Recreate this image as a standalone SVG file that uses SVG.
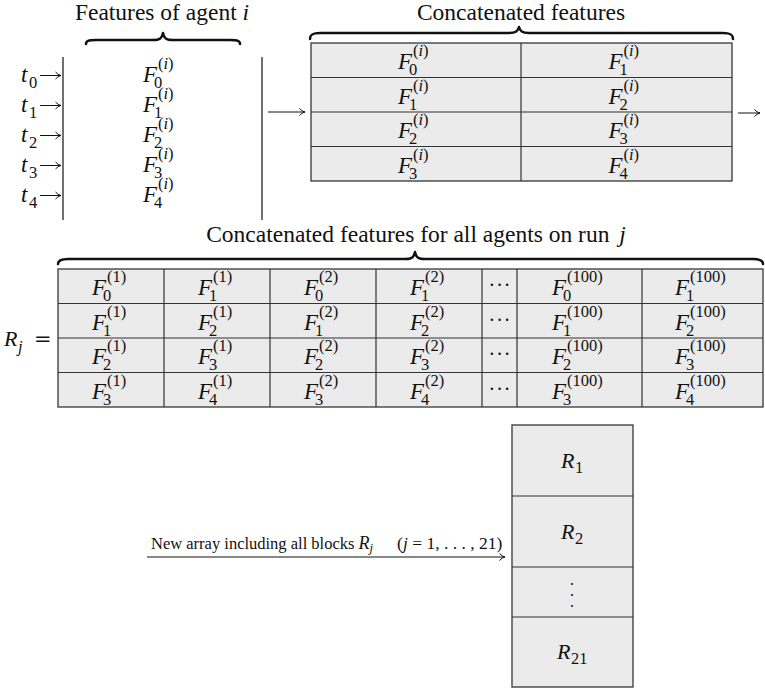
<svg xmlns="http://www.w3.org/2000/svg" width="765" height="689" viewBox="0 0 765 689">
  <style>
    text { font-family: "Liberation Serif", "Times New Roman", serif; fill: #111; }
    .it { font-style: italic; }
    .F { font-size: 23px; font-style: italic; }
    .s { font-size: 16.5px; }
    .title { font-size: 23.5px; }
    .small { font-size: 16.5px; }
    .R { font-size: 22px; font-style: italic; }
    .grid { fill: #ebebeb; stroke: #444; stroke-width: 1.4; }
    .gl { stroke: #333; stroke-width: 1.2; fill: none; }
    .bar { stroke: #222; stroke-width: 1.3; }
    .brace { fill: none; stroke: #111; stroke-width: 2.5; stroke-linecap: round; stroke-linejoin: round; }
    .arr { fill: none; stroke: #111; stroke-width: 1; marker-end: url(#ah); }
    .vdots { font-size: 16px; writing-mode: vertical-rl; letter-spacing: 7px; }
  </style>
  <defs>
    <marker id="ah" markerWidth="10" markerHeight="10" refX="9" refY="5" orient="auto" markerUnits="userSpaceOnUse">
      <path d="M3.5,1.5 Q6,4.4 9,5 Q6,5.6 3.5,8.5" fill="none" stroke="#111" stroke-width="1"/>
    </marker>
  </defs>

  <rect width="765" height="689" fill="#ffffff"/>

  <!-- Features of agent i -->
  <g id="agent-features">
    <text class="title" x="162" y="20" text-anchor="middle">Features of agent <tspan class="it">i</tspan></text>
    <path class="brace" d="M86,44 C86,41 88,40 96,40 L153,40 C160,40 162,38 163,33 C164,38 166,40 173,40 L230,40 C238,40 240,41 240,44"/>
    <line class="bar" x1="63" y1="57" x2="63" y2="220"/>
    <line class="bar" x1="262" y1="57" x2="262" y2="220"/>
    <text class="F" x="21" y="82">t<tspan class="s" font-style="normal" x="29" y="88">0</tspan></text>
    <text class="F" x="21" y="112">t<tspan class="s" font-style="normal" x="29" y="118">1</tspan></text>
    <text class="F" x="21" y="142">t<tspan class="s" font-style="normal" x="29" y="148">2</tspan></text>
    <text class="F" x="21" y="172">t<tspan class="s" font-style="normal" x="29" y="178">3</tspan></text>
    <text class="F" x="21" y="202">t<tspan class="s" font-style="normal" x="29" y="208">4</tspan></text>
    <text><tspan class="F" x="143" y="82">F</tspan><tspan class="s" x="154" y="88">0</tspan><tspan class="s" x="158" y="69">(<tspan class="it">i</tspan>)</tspan></text>
    <text><tspan class="F" x="143" y="112">F</tspan><tspan class="s" x="154" y="118">1</tspan><tspan class="s" x="158" y="99">(<tspan class="it">i</tspan>)</tspan></text>
    <text><tspan class="F" x="143" y="142">F</tspan><tspan class="s" x="154" y="148">2</tspan><tspan class="s" x="158" y="129">(<tspan class="it">i</tspan>)</tspan></text>
    <text><tspan class="F" x="143" y="172">F</tspan><tspan class="s" x="154" y="178">3</tspan><tspan class="s" x="158" y="159">(<tspan class="it">i</tspan>)</tspan></text>
    <text><tspan class="F" x="143" y="202">F</tspan><tspan class="s" x="154" y="208">4</tspan><tspan class="s" x="158" y="189">(<tspan class="it">i</tspan>)</tspan></text>
  </g>

  <!-- Concatenated features of agent i -->
  <g id="concat-agent">
    <text class="title" x="521" y="20" text-anchor="middle">Concatenated features</text>
    <path class="brace" d="M310,39 C310,35 312,33 320,33 L509,33 C516,33 518,31 519,27 C520,31 522,33 529,33 L723,33 C731,33 733,35 733,39"/>
    <rect class="grid" x="311" y="43" width="421" height="138"/>
    <path class="gl" d="M521,43 V181 M311,77.5 H732 M311,112 H732 M311,146.5 H732"/>
    <text><tspan class="F" x="398" y="69">F</tspan><tspan class="s" x="409" y="75">0</tspan><tspan class="s" x="413" y="56">(<tspan class="it">i</tspan>)</tspan></text>
    <text><tspan class="F" x="608.5" y="69">F</tspan><tspan class="s" x="619.5" y="75">1</tspan><tspan class="s" x="623.5" y="56">(<tspan class="it">i</tspan>)</tspan></text>
    <text><tspan class="F" x="398" y="103.5">F</tspan><tspan class="s" x="409" y="109.5">1</tspan><tspan class="s" x="413" y="90.5">(<tspan class="it">i</tspan>)</tspan></text>
    <text><tspan class="F" x="608.5" y="103.5">F</tspan><tspan class="s" x="619.5" y="109.5">2</tspan><tspan class="s" x="623.5" y="90.5">(<tspan class="it">i</tspan>)</tspan></text>
    <text><tspan class="F" x="398" y="138">F</tspan><tspan class="s" x="409" y="144">2</tspan><tspan class="s" x="413" y="125">(<tspan class="it">i</tspan>)</tspan></text>
    <text><tspan class="F" x="608.5" y="138">F</tspan><tspan class="s" x="619.5" y="144">3</tspan><tspan class="s" x="623.5" y="125">(<tspan class="it">i</tspan>)</tspan></text>
    <text><tspan class="F" x="398" y="172.5">F</tspan><tspan class="s" x="409" y="178.5">3</tspan><tspan class="s" x="413" y="159.5">(<tspan class="it">i</tspan>)</tspan></text>
    <text><tspan class="F" x="608.5" y="172.5">F</tspan><tspan class="s" x="619.5" y="178.5">4</tspan><tspan class="s" x="623.5" y="159.5">(<tspan class="it">i</tspan>)</tspan></text>
  </g>

  <!-- R_j: concatenated features for all agents on run j -->
  <g id="run-block">
    <text class="title" x="416" y="242" text-anchor="middle">Concatenated features for all agents on run <tspan class="it" dx="4">j</tspan></text>
    <path class="brace" d="M58,264 C58,261 60,259 68,259 L405,259 C412,259 414,257 415,252 C416,257 418,259 425,259 L753,259 C761,259 763,261 763,264"/>
    <text><tspan class="R" font-size="24px" x="4" y="346">R</tspan><tspan class="s it" x="18" y="352">j</tspan><tspan font-family="DejaVu Serif, serif" font-size="21px" x="34" y="346">=</tspan></text>
    <rect class="grid" x="58" y="269" width="705" height="138"/>
    <path class="gl" d="M164,269 V407 M270,269 V407 M376,269 V407 M482,269 V407 M517,269 V407 M642,269 V407 M58,303.5 H763 M58,338 H763 M58,372.5 H763"/>

    <!-- row 0 -->
    <text><tspan class="F" x="92" y="295">F</tspan><tspan class="s" x="103" y="301">0</tspan><tspan class="s" x="107" y="282">(1)</tspan></text>
    <text><tspan class="F" x="198" y="295">F</tspan><tspan class="s" x="209" y="301">1</tspan><tspan class="s" x="213" y="282">(1)</tspan></text>
    <text><tspan class="F" x="304" y="295">F</tspan><tspan class="s" x="315" y="301">0</tspan><tspan class="s" x="319" y="282">(2)</tspan></text>
    <text><tspan class="F" x="410" y="295">F</tspan><tspan class="s" x="421" y="301">1</tspan><tspan class="s" x="425" y="282">(2)</tspan></text>
    <text font-size="20px" x="500" y="292" text-anchor="middle" letter-spacing="1">···</text>
    <text><tspan class="F" x="552" y="295">F</tspan><tspan class="s" x="563" y="301">0</tspan><tspan class="s" x="567" y="282">(100)</tspan></text>
    <text><tspan class="F" x="675" y="295">F</tspan><tspan class="s" x="686" y="301">1</tspan><tspan class="s" x="690" y="282">(100)</tspan></text>

    <!-- row 1 -->
    <text><tspan class="F" x="92" y="329.5">F</tspan><tspan class="s" x="103" y="335.5">1</tspan><tspan class="s" x="107" y="316.5">(1)</tspan></text>
    <text><tspan class="F" x="198" y="329.5">F</tspan><tspan class="s" x="209" y="335.5">2</tspan><tspan class="s" x="213" y="316.5">(1)</tspan></text>
    <text><tspan class="F" x="304" y="329.5">F</tspan><tspan class="s" x="315" y="335.5">1</tspan><tspan class="s" x="319" y="316.5">(2)</tspan></text>
    <text><tspan class="F" x="410" y="329.5">F</tspan><tspan class="s" x="421" y="335.5">2</tspan><tspan class="s" x="425" y="316.5">(2)</tspan></text>
    <text font-size="20px" x="500" y="326.5" text-anchor="middle" letter-spacing="1">···</text>
    <text><tspan class="F" x="552" y="329.5">F</tspan><tspan class="s" x="563" y="335.5">1</tspan><tspan class="s" x="567" y="316.5">(100)</tspan></text>
    <text><tspan class="F" x="675" y="329.5">F</tspan><tspan class="s" x="686" y="335.5">2</tspan><tspan class="s" x="690" y="316.5">(100)</tspan></text>

    <!-- row 2 -->
    <text><tspan class="F" x="92" y="364">F</tspan><tspan class="s" x="103" y="370">2</tspan><tspan class="s" x="107" y="351">(1)</tspan></text>
    <text><tspan class="F" x="198" y="364">F</tspan><tspan class="s" x="209" y="370">3</tspan><tspan class="s" x="213" y="351">(1)</tspan></text>
    <text><tspan class="F" x="304" y="364">F</tspan><tspan class="s" x="315" y="370">2</tspan><tspan class="s" x="319" y="351">(2)</tspan></text>
    <text><tspan class="F" x="410" y="364">F</tspan><tspan class="s" x="421" y="370">3</tspan><tspan class="s" x="425" y="351">(2)</tspan></text>
    <text font-size="20px" x="500" y="361" text-anchor="middle" letter-spacing="1">···</text>
    <text><tspan class="F" x="552" y="364">F</tspan><tspan class="s" x="563" y="370">2</tspan><tspan class="s" x="567" y="351">(100)</tspan></text>
    <text><tspan class="F" x="675" y="364">F</tspan><tspan class="s" x="686" y="370">3</tspan><tspan class="s" x="690" y="351">(100)</tspan></text>

    <!-- row 3 -->
    <text><tspan class="F" x="92" y="398.5">F</tspan><tspan class="s" x="103" y="404.5">3</tspan><tspan class="s" x="107" y="385.5">(1)</tspan></text>
    <text><tspan class="F" x="198" y="398.5">F</tspan><tspan class="s" x="209" y="404.5">4</tspan><tspan class="s" x="213" y="385.5">(1)</tspan></text>
    <text><tspan class="F" x="304" y="398.5">F</tspan><tspan class="s" x="315" y="404.5">3</tspan><tspan class="s" x="319" y="385.5">(2)</tspan></text>
    <text><tspan class="F" x="410" y="398.5">F</tspan><tspan class="s" x="421" y="404.5">4</tspan><tspan class="s" x="425" y="385.5">(2)</tspan></text>
    <text font-size="20px" x="500" y="395.5" text-anchor="middle" letter-spacing="1">···</text>
    <text><tspan class="F" x="552" y="398.5">F</tspan><tspan class="s" x="563" y="404.5">3</tspan><tspan class="s" x="567" y="385.5">(100)</tspan></text>
    <text><tspan class="F" x="675" y="398.5">F</tspan><tspan class="s" x="686" y="404.5">4</tspan><tspan class="s" x="690" y="385.5">(100)</tspan></text>
  </g>

  <!-- Stacked array of all run blocks -->
  <g id="all-runs">
    <rect class="grid" x="512" y="425" width="121" height="262"/>
    <path class="gl" d="M512,496 H633 M512,567 H633 M512,617 H633"/>
    <text><tspan class="R" x="561" y="468">R</tspan><tspan class="s" x="575" y="473">1</tspan></text>
    <text><tspan class="R" x="561" y="539">R</tspan><tspan class="s" x="575" y="544">2</tspan></text>
    <text class="vdots" x="576" y="582">...</text>
    <text><tspan class="R" x="557" y="659">R</tspan><tspan class="s" x="571" y="664">21</tspan></text>
  </g>

  <!-- Connectors -->
  <g id="connectors">
    <path class="arr" d="M40,75.5 H61"/>
    <path class="arr" d="M40,105.5 H61"/>
    <path class="arr" d="M40,135.5 H61"/>
    <path class="arr" d="M40,165.5 H61"/>
    <path class="arr" d="M40,195.5 H61"/>
    <path class="arr" d="M268,112 H305"/>
    <path class="arr" d="M738,113 H760"/>
    <path class="arr" d="M147,557 H505"/>
    <text class="small" x="151" y="549">New array including all blocks <tspan class="it" font-size="18px">R</tspan><tspan class="it" font-size="12.5px" dy="3">j</tspan><tspan font-size="17.5px" dx="24" dy="-3">(</tspan><tspan class="it" font-size="17.5px">j</tspan><tspan font-size="17.5px"> = 1, . . . , 21)</tspan></text>
  </g>
</svg>
